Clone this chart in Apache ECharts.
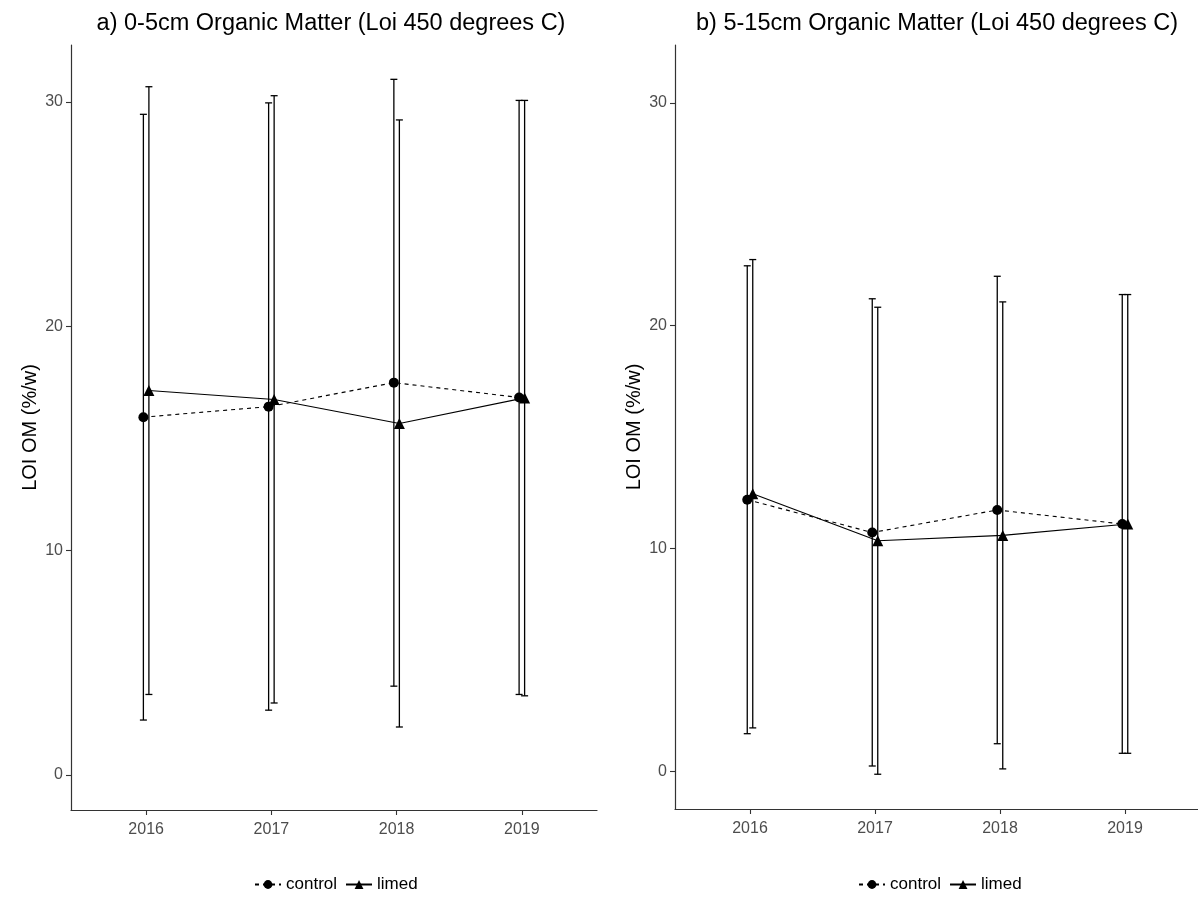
<!DOCTYPE html>
<html>
<head>
<meta charset="utf-8">
<script src="https://cdn.jsdelivr.net/npm/echarts@6/dist/echarts.min.js"></script>
<style>html,body{margin:0;padding:0;background:#fff}#c{width:1198px;height:924px}</style>
</head>
<body>
<div id="c"></div>
<script>
// ---- data ----
const years = [2016, 2017, 2018, 2019];
const yTicks = [0, 10, 20, 30];
// Panel a: 0-5cm
const a_control_mean = [15.94, 16.41, 17.48, 16.82];
const a_control_low  = [2.44, 2.88, 3.95, 3.58];
const a_control_high = [29.44, 29.95, 31.0, 30.06];
const a_limed_mean   = [17.13, 16.73, 15.66, 16.80];
const a_limed_low    = [3.58, 3.20, 2.13, 3.52];
const a_limed_high   = [30.67, 30.27, 29.19, 30.06];
// Panel b: 5-15cm
const b_control_mean = [12.19, 10.72, 11.73, 11.10];
const b_control_low  = [1.69, 0.24, 1.24, 0.81];
const b_control_high = [22.69, 21.21, 22.22, 21.40];
const b_limed_mean   = [12.46, 10.35, 10.59, 11.10];
const b_limed_low    = [1.95, -0.13, 0.11, 0.81];
const b_limed_high   = [22.97, 20.83, 21.07, 21.40];

const DODGE = 0.022;
const FONT = '"Liberation Sans", Arial, sans-serif';

function pts(mean, off) { return years.map((y, i) => [y + off, mean[i]]); }
function bars(low, high, off) { return years.map((y, i) => [y + off, low[i], high[i]]); }

function errSeries(idx, data) {
  return {
    type: 'custom', xAxisIndex: idx, yAxisIndex: idx, z: 2, silent: true,
    encode: { x: 0, y: [1, 2] },
    data: data,
    renderItem: function (params, api) {
      const x = api.value(0);
      const lo = api.coord([x, api.value(1)]);
      const hi = api.coord([x, api.value(2)]);
      const w = 3.5;
      const st = { stroke: '#000', lineWidth: 1.3 };
      return { type: 'group', children: [
        { type: 'line', shape: { x1: lo[0], y1: lo[1], x2: hi[0], y2: hi[1] }, style: st },
        { type: 'line', shape: { x1: lo[0] - w, y1: lo[1], x2: lo[0] + w, y2: lo[1] }, style: st },
        { type: 'line', shape: { x1: hi[0] - w, y1: hi[1], x2: hi[0] + w, y2: hi[1] }, style: st }
      ]};
    }
  };
}
function lineSeries(idx, name, data, dashed) {
  return {
    type: 'line', name: name, xAxisIndex: idx, yAxisIndex: idx, z: 3,
    data: data,
    symbol: dashed ? 'circle' : 'triangle',
    symbolSize: dashed ? 10 : 11,
    itemStyle: { color: '#000' },
    lineStyle: { color: '#000', width: 1.1, type: dashed ? [4, 4] : 'solid' },
    emphasis: { disabled: true },
    animation: false
  };
}
function xAxis(idx) {
  return {
    type: 'value', gridIndex: idx, min: 2015.4, max: 2019.6,
    axisLine: { show: true, onZero: false, lineStyle: { color: '#333', width: 1.2 } },
    axisTick: { show: true, length: 5, lineStyle: { color: '#333', width: 1.1 }, customValues: years },
    axisLabel: { color: '#4d4d4d', fontSize: 16, fontFamily: FONT, margin: 12, customValues: years,
      formatter: v => String(Math.round(v)) },
    splitLine: { show: false }
  };
}
function yAxis(idx, min, max) {
  return {
    type: 'value', gridIndex: idx, min: min, max: max,
    name: 'LOI OM (%/w)', nameLocation: 'middle', nameGap: 31, nameRotate: 90,
    nameTextStyle: { color: '#000', fontSize: 20, fontFamily: FONT },
    axisLine: { show: true, onZero: false, lineStyle: { color: '#333', width: 1.2 } },
    axisTick: { show: true, length: 5, lineStyle: { color: '#333', width: 1.1 }, customValues: yTicks },
    axisLabel: { color: '#4d4d4d', fontSize: 16, fontFamily: FONT, margin: 8, customValues: yTicks },
    splitLine: { show: false }
  };
}

const chart = echarts.init(document.getElementById('c'), null, { renderer: 'canvas' });
chart.setOption({
  animation: false,
  backgroundColor: '#fff',
  title: [
    { text: 'a) 0-5cm Organic Matter (Loi 450 degrees C)', left: 326, top: 7, textAlign: 'center',
      textStyle: { fontSize: 23.5, fontWeight: 'normal', color: '#000', fontFamily: FONT } },
    { text: 'b) 5-15cm Organic Matter (Loi 450 degrees C)', left: 932, top: 7, textAlign: 'center',
      textStyle: { fontSize: 23.5, fontWeight: 'normal', color: '#000', fontFamily: FONT } }
  ],
  grid: [
    { left: 71, top: 45, width: 526, height: 765, containLabel: false, outerBoundsMode: 'none' },
    { left: 675, top: 45, width: 525, height: 764, containLabel: false, outerBoundsMode: 'none' }
  ],
  legend: [
    { left: 249, top: 871, itemWidth: 26, itemHeight: 11, itemGap: 8, selectedMode: false,
      textStyle: { fontSize: 17, color: '#000', fontFamily: FONT }, data: ['control', 'limed'] },
    { left: 853, top: 871, itemWidth: 26, itemHeight: 11, itemGap: 8, selectedMode: false,
      textStyle: { fontSize: 17, color: '#000', fontFamily: FONT }, data: ['control', 'limed'] }
  ],
  xAxis: [xAxis(0), xAxis(1)],
  yAxis: [yAxis(0, -1.57, 32.53), yAxis(1, -1.69, 32.6)],
  series: [
    errSeries(0, bars(a_control_low, a_control_high, -DODGE)),
    errSeries(0, bars(a_limed_low, a_limed_high, DODGE)),
    lineSeries(0, 'control', pts(a_control_mean, -DODGE), true),
    lineSeries(0, 'limed', pts(a_limed_mean, DODGE), false),
    errSeries(1, bars(b_control_low, b_control_high, -DODGE)),
    errSeries(1, bars(b_limed_low, b_limed_high, DODGE)),
    lineSeries(1, 'control', pts(b_control_mean, -DODGE), true),
    lineSeries(1, 'limed', pts(b_limed_mean, DODGE), false)
  ]
});
</script>
</body>
</html>
